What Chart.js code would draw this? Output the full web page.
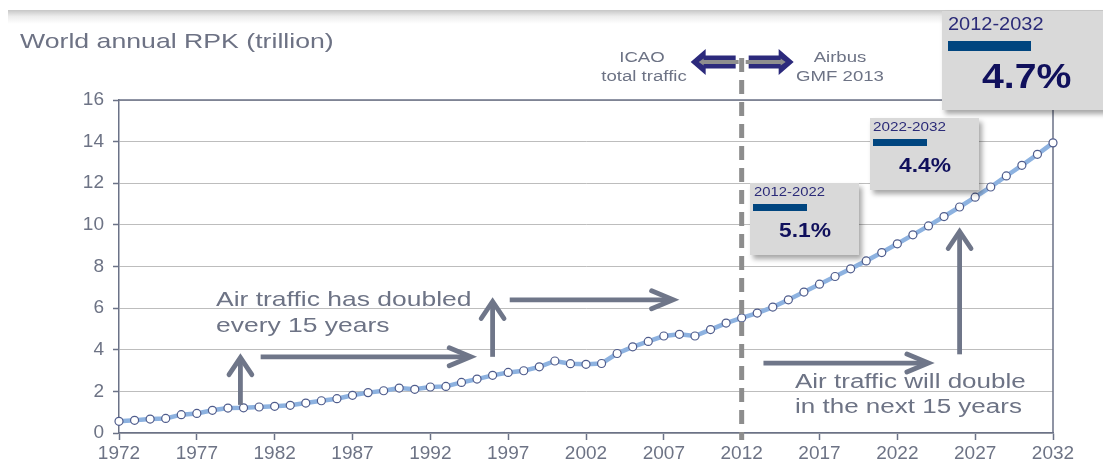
<!DOCTYPE html>
<html>
<head>
<meta charset="utf-8">
<script src="https://cdn.jsdelivr.net/npm/chart.js@4/dist/chart.umd.min.js"></script>
<style>
  html, body { margin: 0; padding: 0; background: #fff; }
  #wrap { position: relative; width: 1103px; height: 468px; overflow: hidden; font-family: "Liberation Sans", Arial, sans-serif; }
  #topbar { position: absolute; left: 8px; top: 10px; width: 1095px; height: 14px; background: linear-gradient(to bottom, #c6c6c6, #ececec 45%, #ffffff); }
  canvas { position: absolute; left: 0; top: 0; }
  .t { position: absolute; white-space: nowrap; }
  .box { position: absolute; background: #d9d9d9; box-shadow: 3px 4px 5px rgba(0,0,0,0.35); }
  .bar { position: absolute; background: #00457f; }
</style>
</head>
<body>
<div id="wrap">
  <div id="topbar"></div>
  <canvas id="c" width="1103" height="468"></canvas>
</div>
<script>
const years = [1972, 1973, 1974, 1975, 1976, 1977, 1978, 1979, 1980, 1981,
  1982, 1983, 1984, 1985, 1986, 1987, 1988, 1989, 1990, 1991,
  1992, 1993, 1994, 1995, 1996, 1997, 1998, 1999, 2000, 2001,
  2002, 2003, 2004, 2005, 2006, 2007, 2008, 2009, 2010, 2011,
  2012, 2013, 2014, 2015, 2016, 2017, 2018, 2019, 2020, 2021,
  2022, 2023, 2024, 2025, 2026, 2027, 2028, 2029, 2030, 2031, 2032];
// world RPK, trillion (ICAO to 2012, Airbus GMF forecast after)
const rpk = [0.56, 0.61, 0.67, 0.70, 0.88, 0.94, 1.09, 1.20, 1.21, 1.25,
  1.28, 1.33, 1.44, 1.55, 1.65, 1.81, 1.94, 2.03, 2.16, 2.10,
  2.21, 2.24, 2.43, 2.59, 2.77, 2.91, 2.99, 3.18, 3.46, 3.33,
  3.30, 3.34, 3.82, 4.14, 4.40, 4.66, 4.74, 4.66, 4.97, 5.28,
  5.53, 5.76, 6.05, 6.40, 6.77, 7.15, 7.52, 7.89, 8.27, 8.67,
  9.09, 9.52, 9.95, 10.40, 10.86, 11.33, 11.82, 12.35, 12.86, 13.39, 13.94];
const tickYears = [1972, 1977, 1982, 1987, 1992, 1997, 2002, 2007, 2012, 2017, 2022, 2027, 2032];
const yTicks = [0, 2, 4, 6, 8, 10, 12, 14, 16];
const splitYear = 2012;

// annotation arrows in data units: [x1, y1, x2, y2]
const trendArrows = [
  [1979.8, 1.35, 1979.8, 3.62],
  [1981.1, 3.66, 1994.6, 3.66],
  [1996.0, 3.66, 1996.0, 6.32],
  [1997.1, 6.40, 2007.6, 6.40],
  [2013.4, 3.36, 2024.0, 3.36],
  [2026.0, 3.78, 2026.0, 9.68]
];

const grey = '#6d7385';
const axisCol = '#6b7287';

function drawArrow(ctx, x1, y1, x2, y2) {
  const dx = x2 - x1, dy = y2 - y1;
  const len = Math.hypot(dx, dy);
  const ux = dx / len, uy = dy / len;
  // picture is stretched sideways, so heads are too
  const back = 17, half = 9, sx = 1.27;
  const bx = -ux * back * sx, by = -uy * back;
  const nx = -uy * half * sx, ny = ux * half;
  ctx.save();
  ctx.strokeStyle = '#6f7689';
  ctx.lineWidth = 4.8;
  ctx.lineCap = 'butt';
  ctx.beginPath();
  ctx.moveTo(x1, y1);
  ctx.lineTo(x2 - ux * 2, y2 - uy * 2);
  ctx.stroke();
  ctx.lineJoin = 'miter';
  ctx.lineCap = 'round';
  ctx.beginPath();
  ctx.moveTo(x2 + bx + nx, y2 + by + ny);
  ctx.lineTo(x2, y2);
  ctx.lineTo(x2 + bx - nx, y2 + by - ny);
  ctx.stroke();
  ctx.restore();
}

function blockArrow(ctx, tailX, tipX, y) {
  const dir = tipX > tailX ? 1 : -1;
  const headX = tipX - dir * 15;
  ctx.save();
  ctx.fillStyle = '#2c2a7c';
  ctx.beginPath();
  ctx.moveTo(tailX, y - 6.5);
  ctx.lineTo(headX, y - 6.5);
  ctx.lineTo(headX, y - 13);
  ctx.lineTo(tipX, y);
  ctx.lineTo(headX, y + 13);
  ctx.lineTo(headX, y + 6.5);
  ctx.lineTo(tailX, y + 6.5);
  ctx.closePath();
  ctx.fill();
  ctx.fillStyle = '#8e8e8e';
  ctx.beginPath();
  ctx.moveTo(tailX - dir * 3, y - 2);
  ctx.lineTo(headX + dir * 2, y - 2);
  ctx.lineTo(headX + dir * 2, y - 3.5);
  ctx.lineTo(tipX - dir * 8, y);
  ctx.lineTo(headX + dir * 2, y + 3.5);
  ctx.lineTo(headX + dir * 2, y + 2);
  ctx.lineTo(tailX - dir * 3, y + 2);
  ctx.closePath();
  ctx.fill();
  ctx.restore();
}

const decorations = {
  id: 'decorations',
  beforeDatasetsDraw(chart) {
    const { ctx, chartArea: a } = chart;
    ctx.save();
    ctx.strokeStyle = axisCol;
    ctx.lineWidth = 1.5;
    ctx.beginPath();
    ctx.moveTo(a.left, a.top);
    ctx.lineTo(a.right, a.top);
    ctx.lineTo(a.right, a.bottom);
    ctx.stroke();
    ctx.restore();
  },
  afterDatasetsDraw(chart) {
    const { ctx, chartArea: a, scales } = chart;
    const xs = scales.x, ys = scales.y;
    const sx = xs.getPixelForValue(splitYear);
    ctx.save();
    ctx.strokeStyle = '#8d8d8d';
    ctx.lineWidth = 5;
    ctx.setLineDash([14, 8]);
    ctx.beginPath();
    ctx.moveTo(sx, a.top - 42);
    ctx.lineTo(sx, a.bottom + 7);
    ctx.stroke();
    ctx.restore();

    blockArrow(ctx, sx - 6, sx - 51, a.top - 38);
    blockArrow(ctx, sx + 7, sx + 52, a.top - 38);

    trendArrows.forEach(([x1, y1, x2, y2]) => {
      drawArrow(ctx, xs.getPixelForValue(x1), ys.getPixelForValue(y1),
        xs.getPixelForValue(x2), ys.getPixelForValue(y2));
    });
  }
};

new Chart(document.getElementById('c'), {
  type: 'line',
  data: {
    datasets: [{
      data: years.map((y, i) => ({ x: y, y: rpk[i] })),
      borderColor: '#8db2e0',
      borderWidth: 4.5,
      pointRadius: 4,
      pointBackgroundColor: '#ffffff',
      pointBorderColor: '#4f5c8c',
      pointBorderWidth: 1.2,
      tension: 0,
      clip: false
    }]
  },
  options: {
    responsive: false,
    devicePixelRatio: 1,
    animation: false,
    events: [],
    layout: { padding: { top: 100, right: 50, left: 0, bottom: 0 } },
    plugins: { legend: { display: false }, tooltip: { enabled: false } },
    scales: {
      x: {
        type: 'linear',
        min: 1972,
        max: 2032,
        afterBuildTicks: axis => { axis.ticks = tickYears.map(v => ({ value: v })); },
        afterFit: s => { s.height = 35; },
        grid: { drawOnChartArea: false, drawTicks: true, tickLength: 7, tickColor: axisCol, tickWidth: 1.5 },
        border: { color: axisCol, width: 1.5 },
        ticks: {
          autoSkip: false,
          maxRotation: 0,
          padding: 2,
          color: grey,
          font: { family: '"Liberation Sans", Arial, sans-serif', size: 19 },
          callback: v => String(v)
        }
      },
      y: {
        min: 0,
        max: 16,
        afterBuildTicks: axis => { axis.ticks = yTicks.map(v => ({ value: v })); },
        afterFit: s => { s.width = 119; },
        grid: { color: '#bdbdbd', lineWidth: 1, tickLength: 6, tickColor: axisCol, tickWidth: 1.5 },
        border: { color: axisCol, width: 1.5 },
        ticks: {
          padding: 9,
          color: grey,
          font: { family: '"Liberation Sans", Arial, sans-serif', size: 19 }
        }
      }
    }
  },
  plugins: [decorations]
});

// text overlays, placed by baseline
const wrap = document.getElementById('wrap');
function label(text, x, baseline, size, o = {}) {
  const lh = Math.round(size * 1.2);
  const el = document.createElement('div');
  el.className = 't';
  el.textContent = text;
  el.style.fontSize = size + 'px';
  el.style.lineHeight = lh + 'px';
  el.style.color = o.color || grey;
  if (o.bold) el.style.fontWeight = 'bold';
  const top = baseline - ((lh - 1.117 * size) / 2 + 0.905 * size);
  el.style.top = top + 'px';
  const sx = o.sx || 1;
  if (o.center) {
    el.style.left = (x - 150) + 'px';
    el.style.width = '300px';
    el.style.textAlign = 'center';
    el.style.transformOrigin = 'center';
  } else {
    el.style.left = x + 'px';
    el.style.transformOrigin = 'left';
  }
  el.style.transform = 'scaleX(' + sx + ')';
  wrap.appendChild(el);
  return el;
}
function box(x, y, w, h) {
  const el = document.createElement('div');
  el.className = 'box';
  Object.assign(el.style, { left: x + 'px', top: y + 'px', width: w + 'px', height: h + 'px' });
  wrap.appendChild(el);
}
function bar(x, y, w, h) {
  const el = document.createElement('div');
  el.className = 'bar';
  Object.assign(el.style, { left: x + 'px', top: y + 'px', width: w + 'px', height: h + 'px' });
  wrap.appendChild(el);
}

label('World annual RPK (trillion)', 20, 48, 21, { sx: 1.27, color: '#6d7284' });

label('ICAO', 642, 62, 15.5, { center: true, sx: 1.2 });
label('total traffic', 644, 81, 15.5, { center: true, sx: 1.2 });
label('Airbus', 840, 62, 15.5, { center: true, sx: 1.2 });
label('GMF 2013', 840, 81, 15.5, { center: true, sx: 1.2 });

label('Air traffic has doubled', 216, 306, 21, { sx: 1.26 });
label('every 15 years', 216, 332, 21, { sx: 1.26 });
label('Air traffic will double', 795, 388, 20, { sx: 1.3 });
label('in the next 15 years', 795, 413, 20, { sx: 1.3 });

const navy = '#2b2b78';
const darkNavy = '#10105c';

box(942, 11, 175, 99);
label('2012-2032', 948, 30, 18.5, { sx: 1.08, color: navy });
bar(948, 41, 83, 10);
label('4.7%', 982, 88, 35, { bold: true, sx: 1.12, color: darkNavy });

box(870, 118, 109, 72);
label('2022-2032', 873, 132, 13.5, { sx: 1.13, color: navy });
bar(873, 139, 54, 7);
label('4.4%', 899, 172, 19.5, { bold: true, sx: 1.17, color: darkNavy });

box(750, 183, 109, 72);
label('2012-2022', 754, 197, 13, { sx: 1.14, color: navy });
bar(753, 204, 54, 7);
label('5.1%', 779, 237, 19.5, { bold: true, sx: 1.17, color: darkNavy });
</script>
</body>
</html>
